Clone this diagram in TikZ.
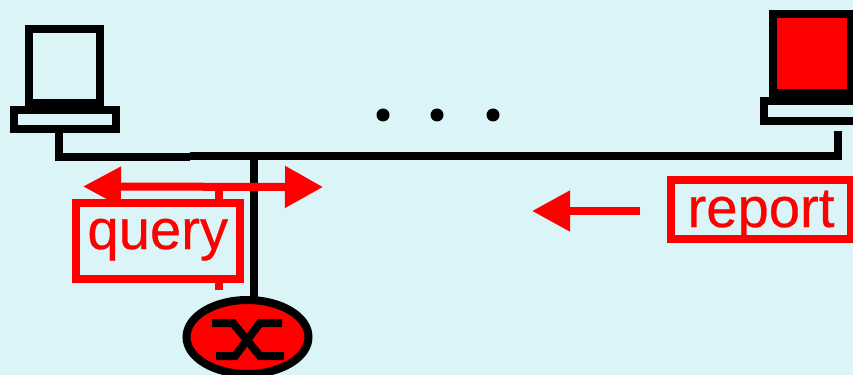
\documentclass[tikz,border=0pt]{standalone}
\usepackage{fontspec}
\setmainfont[FakeBold=0.4]{Liberation Sans}
\usetikzlibrary{arrows.meta,shapes.geometric}
\definecolor{bgcol}{HTML}{DAF4F8}
\newcommand{\px}{0.03cm}
\tikzset{
  wire/.style={line width=8*\px,black},
  redline/.style={line width=8*\px,red},
  pcbox/.style={draw,line width=8*\px,rectangle,inner sep=0pt,outer sep=0pt},
  msgbox/.style={draw=red,fill=bgcol,text=red,line width=8*\px,rectangle,inner sep=0pt,outer sep=0pt,font=\fontsize{48}{50}\selectfont},
  redarrow/.style={redline,-{Triangle[length=38*\px,width=39*\px]}},
  dot/.style={circle,fill=black,inner sep=0pt,minimum size=13*\px}
}
\begin{document}
\begin{tikzpicture}[x=\px,y=-\px]
  \fill[bgcol] (0,0) rectangle (853,375);
  \clip (0,0) rectangle (853,375);
  % hosts
  \node[pcbox,minimum width=71*\px,minimum height=74*\px] (monitorl) at (64.5,66.5) {};
  \node[pcbox,minimum width=102*\px,minimum height=19.5*\px] (basel) at (64.5,119.75) {};
  \node[pcbox,fill=red,minimum width=78.5*\px,minimum height=79*\px] (monitorr) at (811.75,54) {};
  \node[pcbox,minimum width=98*\px,minimum height=19.5*\px] (baser) at (812.5,111.25) {};
  % tops of the wires
  \coordinate (tapl) at (59,131);
  \coordinate (tapr) at (838,131);
  \coordinate (busl) at (59,157);
  \coordinate (busm) at (190,156.5);
  \coordinate (busr) at (838,156);
  \coordinate (tapm) at (253.5,156);
  % switch
  \node[ellipse,draw,line width=8*\px,fill=red,inner sep=0pt,outer sep=0pt,minimum width=122*\px,minimum height=74*\px] (switch) at (247.5,337) {};
  % bus
  \draw[wire,line join=miter] (tapl) -- (busl) -- (busl -| busm);
  \draw[wire,line join=miter] (busm) -- (busr |- busm) -- (tapr);
  \draw[wire] (tapm) -- (tapm |- switch.north);
  % switch symbol
  \coordinate (swa) at (212,323);
  \coordinate (swb) at (233,323);
  \coordinate (swc) at (260,356);
  \coordinate (swd) at (284,356);
  \coordinate (swe) at (282,323);
  \coordinate (swf) at (260,323);
  \coordinate (swg) at (235,356);
  \coordinate (swh) at (216,356);
  \draw[wire] (swa) -- (swb) -- (swc) -- (swd);
  \draw[wire] (swe) -- (swf) -- (swg) -- (swh);
  % dots
  \node[dot] (dota) at (383,115) {};
  \node[dot] (dotb) at (437,115) {};
  \node[dot] (dotc) at (493,115) {};
  % query, the box sits on top of the arrow
  \coordinate (queryl) at (83,186.5);
  \coordinate (queryr) at (323,187);
  \coordinate (queryt) at (219,187);
  \coordinate (queryb) at (219,290);
  \draw[redarrow,{Triangle[length=38*\px,width=38*\px]}-{Triangle[length=38*\px,width=40*\px]}] (queryl) -- (queryr);
  \draw[redline] (queryt) -- (queryb);
  \node[msgbox,minimum width=163.5*\px,minimum height=75.5*\px,text height=30.5*\px,text depth=15*\px] (query) at (157.75,241.25) {query};
  % report
  \node[msgbox,minimum width=180*\px,minimum height=59*\px,text height=45*\px,text depth=10*\px] (report) at (761,209.5) {report};
  \coordinate (reportl) at (532,211);
  \draw[redarrow] (reportl -| 640,0) -- (reportl);
\end{tikzpicture}
\end{document}
